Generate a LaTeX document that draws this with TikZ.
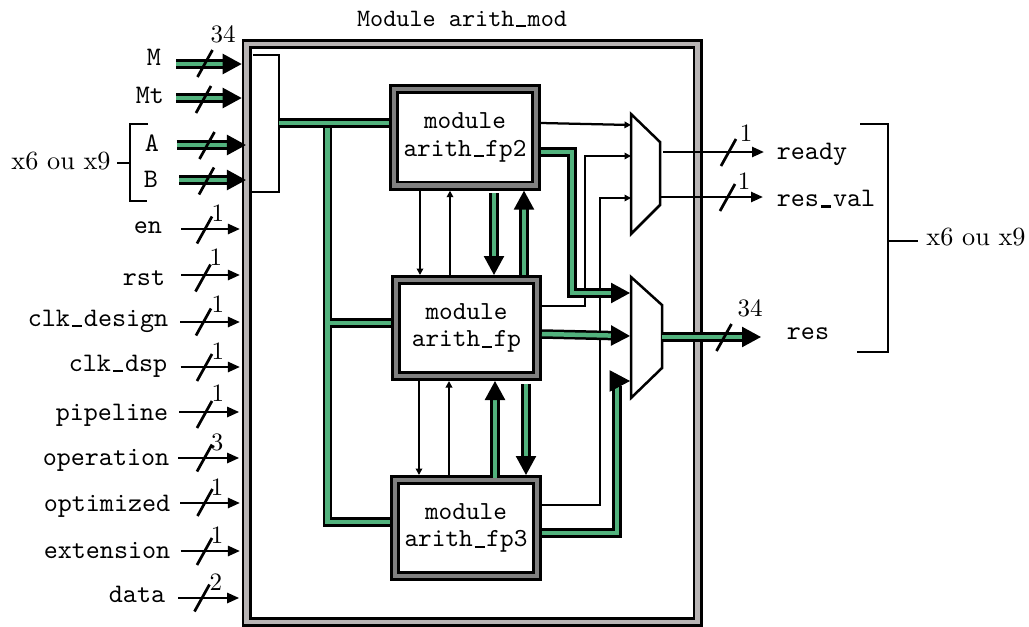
\documentclass[tikz,border=0pt]{standalone}
\usepackage{tikz}
\usetikzlibrary{arrows.meta,calc}
\definecolor{framegray}{RGB}{184,180,180}
\definecolor{modgray}{RGB}{128,128,128}
\definecolor{busgreen}{RGB}{82,178,125}
\newcommand{\us}{\makebox[0.525em]{\rule[-0.03em]{0.38em}{0.08em}}}
\tikzset{
    shell/.style={draw=black, line width=1.1pt, double=framegray, double distance=1.8pt, outer sep=2pt},
    module/.style={shell, double=modgray, fill=white, font=\fontsize{10.4}{12}\selectfont\ttfamily, align=center},
    port/.style={font=\fontsize{10.7}{12}\selectfont\ttfamily},
    bits/.style={inner sep=0pt},
    times/.style={font=\fontsize{10.5}{12}\selectfont},
    bus/.style={draw=black, line width=1pt, double=busgreen, double distance=1.8pt},
    bustip/.style={bus, -{Triangle[length=7.6pt,width=8pt]}},
    sig/.style={line width=1pt, -{Triangle[length=4.8pt,width=4pt]}},
    wire/.style={line width=0.9pt, -{Triangle[length=2.6pt,width=2.6pt]}},
    outline/.style={line width=1pt, line join=miter},
    slash/.pic={\draw[line width=1.1pt] (-7.5,13.5) -- (7.5,-13.5);}
}
\begin{document}
\begin{tikzpicture}[x=0.4pt,y=-0.4pt]
    \useasboundingbox (0,0) rectangle (1029,627);

    % Frame and modules
    \node[shell, minimum width=180.4pt, minimum height=231.1pt] (frame) at (472.2,332.9) {};
    \node[font=\ttfamily] (title) at (462,19) {Module arith\us mod};
    \node[module, minimum width=56.8pt, minimum height=38.7pt] (fp2) at (465,137.3) {module\\[-1pt]arith\us fp2};
    \node[module, minimum width=56.4pt, minimum height=38.4pt] (fp) at (466.5,328) {module\\[-1pt]arith\us fp};
    \node[module, minimum width=56.8pt, minimum height=38.4pt] (fp3) at (466,528) {module\\[-1pt]arith\us fp3};

    % Muxes and input box
    \draw[outline] (631,114) -- (660,142) -- (660,205) -- (631,234) -- cycle;
    \draw[outline] (631,277) -- (662,305) -- (662,368) -- (631,398) -- cycle;
    \draw[outline] (253,55) -- (279,55) coordinate (boxT) -- (279,192) coordinate (boxB) -- (252,192);
    \coordinate (boxO) at (279,123);
    \coordinate (muxAa) at (631,125);
    \coordinate (muxAb) at (631,156);
    \coordinate (muxAc) at (631,198);
    \coordinate (muxBa) at (630,293);
    \coordinate (muxBb) at (630,336);
    \coordinate (muxBc) at (630,381);

    % Wide inputs
    \node[port] (M) at (154,57) {M};
    \coordinate (Ms) at (176,64);
    \draw[bustip] (Ms) -- (Ms -| frame.west);
    \pic at (205,63.5) {slash};
    \node[bits] (wM) at (223,34) {34};
    \node[port] (Mt) at (150,95) {Mt};
    \coordinate (Mts) at (176,98);
    \draw[bustip] (Mts) -- (Mts -| frame.west);
    \pic at (203.5,99.5) {slash};
    \node[port] (A) at (152,143) {A};
    \coordinate (As) at (176.5,145);
    \draw[bustip, shorten >=-1.7pt] (As) -- (As -| frame.west);
    \pic at (207,145.5) {slash};
    \node[port] (B) at (151,179) {B};
    \coordinate (Bs) at (179,180);
    \draw[bustip, shorten >=-1.7pt] (Bs) -- (Bs -| frame.west);
    \pic at (206.5,181) {slash};

    % x6 ou x9, left
    \node[times] (left) at (61,161) {x6 ou x9};
    \coordinate (brkL) at (130,163);
    \draw[outline] (148,124) -- (130,124) -- (130,201) -- (147,201);
    \draw[outline] (brkL) -- (117,163);

    % One bit inputs
    \node[port] (en) at (148,228) {en};
    \coordinate (ens) at (181,229);
    \draw[sig, shorten >=0.7pt] (ens) -- (ens -| frame.west);
    \pic at (204.5,230) {slash};
    \node[bits] (wen) at (218,213) {1};
    \node[port] (rst) at (144,278) {rst};
    \coordinate (rsts) at (181,275);
    \draw[sig, shorten >=0.7pt] (rsts) -- (rsts -| frame.west);
    \pic at (203,278) {slash};
    \node[bits] (wrst) at (216,257) {1};
    \node[port] (design) at (98,321) {clk\us design};
    \coordinate (designs) at (180,322);
    \draw[sig, shorten >=0.7pt] (designs) -- (designs -| frame.west);
    \pic at (203.5,322) {slash};
    \node[bits] (wdesign) at (218,304) {1};
    \node[port] (dsp) at (118,366) {clk\us dsp};
    \coordinate (dsps) at (180.5,367);
    \draw[sig, shorten >=0.7pt] (dsps) -- (dsps -| frame.west);
    \pic at (204.5,367.5) {slash};
    \node[bits] (wdsp) at (218,351) {1};
    \node[port] (pipeline) at (112,415) {pipeline};
    \coordinate (pipelines) at (179,412);
    \draw[sig, shorten >=1pt] (pipelines) -- (pipelines -| frame.west);
    \pic at (204.5,414.5) {slash};
    \node[bits] (wpipeline) at (218,393) {1};
    \node[port] (operation) at (106,460) {operation};
    \coordinate (operations) at (178,458);
    \draw[sig, shorten >=1pt] (operations) -- (operations -| frame.west);
    \pic at (204.5,458) {slash};
    \node[bits] (woperation) at (217,442) {3};
    \node[port] (optimized) at (107,506) {optimized};
    \coordinate (optimizeds) at (180,503);
    \draw[sig, shorten >=0.7pt] (optimizeds) -- (optimizeds -| frame.west);
    \pic at (205,502.5) {slash};
    \node[bits] (woptimized) at (217,487) {1};
    \node[port] (extension) at (107,550) {extension};
    \coordinate (extensions) at (180.5,551);
    \draw[sig, shorten >=0.7pt] (extensions) -- (extensions -| frame.west);
    \pic at (204.5,551.5) {slash};
    \node[bits] (wextension) at (217,535) {1};
    \node[port] (data) at (137,594) {data};
    \coordinate (datas) at (178,598);
    \draw[sig, shorten >=1pt] (datas) -- (datas -| frame.west);
    \pic at (202,598) {slash};
    \node[bits] (wdata) at (216,582) {2};

    % Input buses
    \coordinate (busT) at (327.5,123);
    \coordinate (busM) at (327.5,323);
    \draw[bus] (busT) -- (busM) -- (fp.west |- busM) (busM) |- (fp3.west |- 0,522);
    \draw[bus] (boxO) -- (fp2.west |- boxO);

    % Between modules, thin
    \draw[wire] (fp2.south -| 420,0) -- (fp.north -| 420,0);
    \draw[wire] (fp.north -| 450,0) -- (fp2.south -| 450,0);
    \draw[wire] (fp.south -| 419,0) -- (fp3.north -| 419,0);
    \draw[wire] (fp3.north -| 449,0) -- (fp.south -| 449,0);

    % Between modules, wide
    \draw[bustip, shorten <=1pt] (fp2.south -| 494,0) -- (fp.north -| 494,0);
    \draw[bustip] (fp.north -| 524,0) -- (fp2.south -| 524,0);
    \draw[bustip, shorten <=-1pt] (fp3.north -| 495,0) -- (fp.south -| 495,0);
    \draw[bustip, shorten <=1pt] (fp.south -| 526,0) -- (fp3.north -| 526,0);

    % To first mux
    \draw[wire] (fp2.east |- 0,123) -- (muxAa);
    \draw[wire] (fp.east |- 0,306) -| (585,156) -- (muxAb);
    \draw[wire] (fp3.east |- 0,505) -| (600,198) -- (muxAc);

    % To second mux
    \draw[bustip] (fp2.east |- 0,152) -| (572,293) -- (muxBa);
    \draw[bustip] (fp.east |- 0,334) -- (muxBb);
    \draw[bus] (fp3.east |- 0,533) -| (617,386);
    \draw[-{Triangle[length=8.2pt,width=8.6pt]}, line width=0.4pt] (611,381) -- (muxBc);

    % Outputs
    \node[port] (ready) at (812,154) {ready};
    \node[port] (resval) at (826,199) {res\us val};
    \node[port] (res) at (808,334) {res};
    \coordinate (readys) at (663,152);
    \coordinate (resvals) at (660,197);
    \coordinate (ress) at (662,337);
    \draw[sig] (readys) -- (764,152) coordinate (readye);
    \draw[sig] (resvals) -- (763,197) coordinate (resvale);
    \draw[bustip] (ress) -- (761,337) coordinate (rese);
    \pic at (728.5,152.5) {slash};
    \pic at (727.5,197.5) {slash};
    \pic at (724,337.5) {slash};
    \node[bits] (wready) at (746,133) {1};
    \node[bits] (wresval) at (744,181) {1};
    \node[bits] (wres) at (750,308) {34};

    % x6 ou x9, right
    \node[times] (right) at (976,237) {x6 ou x9};
    \coordinate (brkR) at (888,241);
    \draw[outline] (860,124) -- (888,124) -- (888,352) -- (857,352);
    \draw[outline] (brkR) -- (918,241);
\end{tikzpicture}
\end{document}
